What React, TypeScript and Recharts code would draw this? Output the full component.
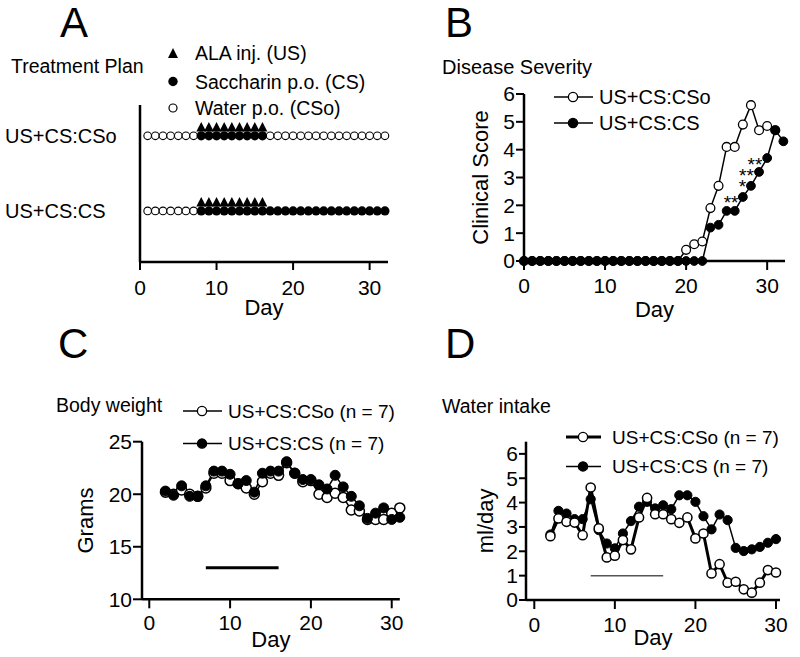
import React from 'react';
import {
  ScatterChart,
  ComposedChart,
  LineChart,
  Line,
  Scatter,
  XAxis,
  YAxis,
  Legend,
  Label,
  ReferenceLine,
} from 'recharts';

const FONT = '"Liberation Sans", Arial, Helvetica, sans-serif';

// ---------- A: treatment plan ----------
const planRows = ['US+CS:CS', 'US+CS:CSo'];
const csoWaterDays = [1, 2, 3, 4, 5, 6, 7, 17, 18, 19, 20, 21, 22, 23, 24, 25, 26, 27, 28, 29, 30, 31, 32];
const csoSaccharinDays = [8, 9, 10, 11, 12, 13, 14, 15, 16];
const csoAlaDays = [8, 9, 10, 11, 12, 13, 14, 15, 16];
const csWaterDays = [1, 2, 3, 4, 5, 6, 7];
const csSaccharinDays = [8, 9, 10, 11, 12, 13, 14, 15, 16, 17, 18, 19, 20, 21, 22, 23, 24, 25, 26, 27, 28, 29, 30, 31, 32];
const csAlaDays = [8, 9, 10, 11, 12, 13, 14, 15, 16];

// ---------- B: disease severity ----------
const severityDays = [0, 1, 2, 3, 4, 5, 6, 7, 8, 9, 10, 11, 12, 13, 14, 15, 16, 17, 18, 19, 20, 21, 22, 23, 24, 25, 26, 27, 28, 29, 30, 31, 32];
const severityCSo = [0, 0, 0, 0, 0, 0, 0, 0, 0, 0, 0, 0, 0, 0, 0, 0, 0, 0, 0, 0, 0.4, 0.6, 0.7, 1.9, 2.7, 4.1, 4.1, 4.9, 5.6, 4.7, 4.85, 4.7];
const severityCS = [0, 0, 0, 0, 0, 0, 0, 0, 0, 0, 0, 0, 0, 0, 0, 0, 0, 0, 0, 0, 0, 0, 0, 1.2, 1.3, 1.8, 1.8, 2.3, 2.7, 3.2, 3.7, 4.7, 4.3];
const severityStars = [
  { day: 25.55, score: 2.26, text: '**' },
  { day: 26.95, score: 2.82, text: '*' },
  { day: 27.9, score: 3.21, text: '***' },
  { day: 28.5, score: 3.63, text: '**' },
];

// ---------- C: body weight ----------
const weightDays = [2, 3, 4, 5, 6, 7, 8, 9, 10, 11, 12, 13, 14, 15, 16, 17, 18, 19, 20, 21, 22, 23, 24, 25, 26, 27, 28, 29, 30, 31];
const weightCSo = [20.2, 20.0, 20.4, 20.0, 19.8, 20.6, 22.0, 22.0, 21.3, 21.0, 20.6, 20.0, 21.2, 22.0, 21.8, 23.0, 22.0, 21.2, 21.3, 20.0, 19.7, 20.1, 19.7, 18.5, 18.4, 17.6, 17.6, 17.6, 18.2, 18.7];
const weightCS = [20.3, 19.9, 20.8, 19.8, 19.8, 20.8, 22.2, 22.2, 21.9, 21.0, 21.3, 20.2, 22.0, 22.2, 22.2, 23.1, 22.0, 21.4, 21.4, 20.9, 20.5, 21.8, 20.7, 19.8, 18.9, 17.7, 18.2, 18.7, 17.6, 17.8];
const weightBar = { start: 7, end: 16, level: 13 };

// ---------- D: water intake ----------
const waterDays = [2, 3, 4, 5, 6, 7, 8, 9, 10, 11, 12, 13, 14, 15, 16, 17, 18, 19, 20, 21, 22, 23, 24, 25, 26, 27, 28, 29, 30];
const waterCSo = [2.62, 3.35, 3.21, 3.18, 2.66, 4.62, 2.94, 1.75, 1.82, 2.46, 2.08, 3.39, 4.19, 3.52, 3.52, 3.32, 3.17, 3.39, 2.53, 2.73, 1.09, 1.47, 0.71, 0.75, 0.44, 0.3, 0.71, 1.23, 1.13];
const waterCS = [2.69, 3.66, 3.55, 3.32, 3.32, 4.14, 2.87, 2.32, 2.12, 2.73, 3.24, 3.83, 4.03, 3.76, 3.89, 3.73, 4.3, 4.3, 4.03, 3.44, 2.9, 3.51, 3.28, 2.14, 2.01, 2.08, 2.18, 2.35, 2.5];
const waterBar = { start: 7, end: 16, level: 1 };

const toPoints = (days: number[], row: number) => days.map((day) => ({ day, row }));
const toSeries = (days: number[], values: number[], key: string) =>
  values.map((v, i) => ({ day: days[i], [key]: v }));

type Box = { left: number; top: number; width: number; height: number };
type Plot = { left: number; top: number; right: number; bottom: number };

// margins so the plot area lands where the figure has it
function marginsFor(box: Box, plot: Plot, yAxisWidth: number, xAxisHeight: number) {
  return {
    left: plot.left - box.left - yAxisWidth,
    top: plot.top - box.top,
    right: box.left + box.width - plot.right,
    bottom: box.top + box.height - plot.bottom - xAxisHeight,
  };
}

const axisLine = { stroke: '#000', strokeWidth: 2.5 };
const tickLine = { stroke: '#000', strokeWidth: 2 };
const tickStyle = { fill: '#000', fontSize: 21 };
const labelStyle = { fill: '#000', fontSize: 22, textAnchor: 'middle' as const };

const OpenDot = (p: any) => <circle cx={p.cx} cy={p.cy} r={3.8} fill="#fff" stroke="#000" strokeWidth={1.1} />;
const FilledDot = (p: any) => <circle cx={p.cx} cy={p.cy} r={4.6} fill="#000" />;
const Triangle = (p: any) => (
  <path d={`M${p.cx - 4.9},${p.cy - 4.3} L${p.cx + 4.9},${p.cy - 4.3} L${p.cx},${p.cy - 13.8} Z`} fill="#000" />
);
const Stars = (p: any) => (
  <text x={p.cx} y={p.cy + 10.8} textAnchor="middle" fontSize={19} fill="#000">
    {p.payload.text}
  </text>
);
const RowTick = (p: any) => (
  <text x={5} y={p.y} dy="0.35em" textAnchor="start" fontSize={20} fill="#000">
    {planRows[p.payload.value]}
  </text>
);

const PlanLegend = () => {
  const items = [
    { label: 'ALA inj. (US)', y: 13, kind: 'tri' },
    { label: 'Saccharin p.o. (CS)', y: 41.5, kind: 'fill' },
    { label: 'Water p.o. (CSo)', y: 68, kind: 'open' },
  ];
  return (
    <svg width={240} height={82} style={{ display: 'block', overflow: 'visible' }}>
      {items.map((it) => (
        <g key={it.label}>
          {it.kind === 'tri' && <path d={`M8,${it.y + 5} L18,${it.y + 5} L13,${it.y - 5} Z`} fill="#000" />}
          {it.kind === 'fill' && <circle cx={13} cy={it.y} r={4.7} fill="#000" />}
          {it.kind === 'open' && <circle cx={13} cy={it.y} r={4} fill="#fff" stroke="#000" strokeWidth={1.2} />}
          <text x={35} y={it.y + 7} fontSize={19.5} fill="#000">
            {it.label}
          </text>
        </g>
      ))}
    </svg>
  );
};

type LegendItem = { label: string; filled: boolean; lineWidth: number };
const SeriesLegend = ({ items, gap, lineFrom, lineTo, markerX, textX, fontSize }: {
  items: LegendItem[]; gap: number; lineFrom: number; lineTo: number; markerX: number; textX: number; fontSize: number;
}) => (
  <svg width={260} height={gap * items.length + 10} style={{ display: 'block', overflow: 'visible' }}>
    {items.map((it, i) => {
      const y = 12 + i * gap;
      return (
        <g key={it.label}>
          <line x1={lineFrom} x2={lineTo} y1={y} y2={y} stroke="#000" strokeWidth={it.lineWidth} />
          <circle cx={markerX} cy={y} r={4.6} fill={it.filled ? '#000' : '#fff'} stroke="#000" strokeWidth={1.3} />
          <text x={textX} y={y + fontSize * 0.36} fontSize={fontSize} fill="#000">
            {it.label}
          </text>
        </g>
      );
    })}
  </svg>
);

function PanelA() {
  const box = { left: 0, top: 0, width: 400, height: 330 };
  const plot = { left: 140, top: 105, right: 388, bottom: 262 };
  const rowCSo = planRows.indexOf('US+CS:CSo');
  const rowCS = planRows.indexOf('US+CS:CS');
  return (
    <div style={{ position: 'absolute', left: box.left, top: box.top }}>
      <ScatterChart width={box.width} height={box.height} margin={marginsFor(box, plot, 140, 53)}>
        <XAxis type="number" dataKey="day" domain={[0, 32.4]} ticks={[0, 10, 20, 30]} interval={0} height={53}
          axisLine={axisLine} tickLine={tickLine} tick={tickStyle} tickSize={8} tickMargin={10}>
          <Label value="Day" position="insideBottom" offset={0} style={labelStyle} />
        </XAxis>
        <YAxis type="number" dataKey="row" domain={[-0.68, 1.41]} ticks={[0, 1]} interval={0} width={140}
          axisLine={axisLine} tickLine={false} tick={<RowTick />} />
        <Legend layout="vertical" align="center" verticalAlign="middle" width={240} height={82}
          wrapperStyle={{ left: 160, top: 40 }} content={() => <PlanLegend />} />
        <Scatter data={toPoints(csoWaterDays, rowCSo)} shape={OpenDot} isAnimationActive={false} />
        <Scatter data={toPoints(csWaterDays, rowCS)} shape={OpenDot} isAnimationActive={false} />
        <Scatter data={toPoints(csoSaccharinDays, rowCSo)} shape={FilledDot} isAnimationActive={false} />
        <Scatter data={toPoints(csSaccharinDays, rowCS)} shape={FilledDot} isAnimationActive={false} />
        <Scatter data={toPoints(csoAlaDays, rowCSo)} shape={Triangle} isAnimationActive={false} />
        <Scatter data={toPoints(csAlaDays, rowCS)} shape={Triangle} isAnimationActive={false} />
      </ScatterChart>
    </div>
  );
}

function PanelB() {
  const box = { left: 400, top: 40, width: 400, height: 290 };
  const plot = { left: 524, top: 94, right: 785, bottom: 261 };
  const legendItems = [
    { label: 'US+CS:CSo', filled: false, lineWidth: 1.5 },
    { label: 'US+CS:CS', filled: true, lineWidth: 1.5 },
  ];
  return (
    <div style={{ position: 'absolute', left: box.left, top: box.top }}>
      <ComposedChart width={box.width} height={box.height} margin={marginsFor(box, plot, 60, 56)}>
        <XAxis type="number" dataKey="day" domain={[0, 32.2]} ticks={[0, 10, 20, 30]} interval={0} height={56}
          axisLine={axisLine} tickLine={tickLine} tick={tickStyle} tickSize={9} tickMargin={8}>
          <Label value="Day" position="insideBottom" offset={0} style={labelStyle} />
        </XAxis>
        <YAxis type="number" domain={[0, 6]} ticks={[0, 1, 2, 3, 4, 5, 6]} interval={0} width={60}
          axisLine={axisLine} tickLine={tickLine} tick={tickStyle} tickSize={8} tickMargin={1}>
          <Label value="Clinical Score" angle={-90} position="insideLeft" offset={16} style={labelStyle} />
        </YAxis>
        <Legend layout="vertical" align="center" verticalAlign="middle" width={260} height={62}
          wrapperStyle={{ left: 140, top: 45 }}
          content={() => <SeriesLegend items={legendItems} gap={26} lineFrom={14} lineTo={53} markerX={33} textX={59} fontSize={20} />} />
        <Line data={toSeries(severityDays, severityCSo, 'score')} dataKey="score" type="linear" stroke="#000" strokeWidth={1.5}
          dot={{ r: 4.4, fill: '#fff', stroke: '#000', strokeWidth: 1.3 }} activeDot={false} isAnimationActive={false} />
        <Line data={toSeries(severityDays, severityCS, 'score')} dataKey="score" type="linear" stroke="#000" strokeWidth={1.5}
          dot={{ r: 4.4, fill: '#000', stroke: '#000', strokeWidth: 1 }} activeDot={false} isAnimationActive={false} />
        <Scatter data={severityStars} dataKey="score" shape={Stars} isAnimationActive={false} />
      </ComposedChart>
    </div>
  );
}

function PanelC() {
  const box = { left: 0, top: 330, width: 410, height: 327 };
  const plot = { left: 142, top: 441.7, right: 399.8, bottom: 599.3 };
  const legendItems = [
    { label: 'US+CS:CSo (n = 7)', filled: false, lineWidth: 1.5 },
    { label: 'US+CS:CS (n = 7)', filled: true, lineWidth: 1.5 },
  ];
  return (
    <div style={{ position: 'absolute', left: box.left, top: box.top }}>
      <LineChart width={box.width} height={box.height} margin={marginsFor(box, plot, 60, 47.4)}>
        <XAxis type="number" dataKey="day" domain={[-0.9, 31]} ticks={[0, 10, 20, 30]} interval={0} height={47.4}
          axisLine={axisLine} tickLine={tickLine} tick={tickStyle} tickSize={9} tickMargin={7}>
          <Label value="Day" position="insideBottom" offset={0} style={labelStyle} />
        </XAxis>
        <YAxis type="number" domain={[10, 25]} ticks={[10, 15, 20, 25]} interval={0} width={60}
          axisLine={axisLine} tickLine={tickLine} tick={tickStyle} tickSize={9} tickMargin={1}>
          <Label value="Grams" angle={-90} position="insideLeft" offset={3} style={labelStyle} />
        </YAxis>
        <Legend layout="vertical" align="center" verticalAlign="middle" width={260} height={76}
          wrapperStyle={{ left: 170, top: 68.7 }}
          content={() => <SeriesLegend items={legendItems} gap={32.6} lineFrom={13} lineTo={52} markerX={32} textX={58} fontSize={19} />} />
        <ReferenceLine segment={[{ x: weightBar.start, y: weightBar.level }, { x: weightBar.end, y: weightBar.level }]}
          stroke="#000" strokeWidth={3} />
        <Line data={toSeries(weightDays, weightCSo, 'grams')} dataKey="grams" type="linear" stroke="#000" strokeWidth={1.5}
          dot={{ r: 5, fill: '#fff', stroke: '#000', strokeWidth: 1.5 }} activeDot={false} isAnimationActive={false} />
        <Line data={toSeries(weightDays, weightCS, 'grams')} dataKey="grams" type="linear" stroke="#000" strokeWidth={1.5}
          dot={{ r: 5, fill: '#000', stroke: '#000', strokeWidth: 1 }} activeDot={false} isAnimationActive={false} />
      </LineChart>
    </div>
  );
}

function PanelD() {
  const box = { left: 400, top: 330, width: 400, height: 327 };
  const plot = { left: 526, top: 441.7, right: 780, bottom: 600 };
  const legendItems = [
    { label: 'US+CS:CSo (n = 7)', filled: false, lineWidth: 3 },
    { label: 'US+CS:CS (n = 7)', filled: true, lineWidth: 1.5 },
  ];
  return (
    <div style={{ position: 'absolute', left: box.left, top: box.top }}>
      <LineChart width={box.width} height={box.height} margin={marginsFor(box, plot, 60, 45)}>
        <XAxis type="number" dataKey="day" domain={[-1.03, 30.5]} ticks={[0, 10, 20, 30]} interval={0} height={45}
          axisLine={axisLine} tickLine={tickLine} tick={tickStyle} tickSize={9} tickMargin={8}>
          <Label value="Day" position="insideBottom" offset={0} style={labelStyle} />
        </XAxis>
        <YAxis type="number" domain={[0, 6.5]} ticks={[0, 1, 2, 3, 4, 5, 6]} interval={0} width={60}
          axisLine={axisLine} tickLine={tickLine} tick={tickStyle} tickSize={7} tickMargin={1}>
          <Label value="ml/day" angle={-90} position="insideLeft" offset={19} style={labelStyle} />
        </YAxis>
        <Legend layout="vertical" align="center" verticalAlign="middle" width={260} height={70}
          wrapperStyle={{ left: 150, top: 95.3 }}
          content={() => <SeriesLegend items={legendItems} gap={29.4} lineFrom={16} lineTo={51} markerX={33} textX={62} fontSize={19} />} />
        <ReferenceLine segment={[{ x: waterBar.start, y: waterBar.level }, { x: waterBar.end, y: waterBar.level }]}
          stroke="#555" strokeWidth={1.5} />
        <Line data={toSeries(waterDays, waterCS, 'ml')} dataKey="ml" type="linear" stroke="#000" strokeWidth={1.5}
          dot={{ r: 4.6, fill: '#000', stroke: '#000', strokeWidth: 1 }} activeDot={false} isAnimationActive={false} />
        <Line data={toSeries(waterDays, waterCSo, 'ml')} dataKey="ml" type="linear" stroke="#000" strokeWidth={3}
          dot={{ r: 4.6, fill: '#fff', stroke: '#000', strokeWidth: 1.5 }} activeDot={false} isAnimationActive={false} />
      </LineChart>
    </div>
  );
}

export default function App() {
  return (
    <div style={{ position: 'absolute', left: 0, top: 0, width: 800, height: 657, background: '#fff', overflow: 'hidden', fontFamily: FONT }}>
      <PanelA />
      <PanelB />
      <PanelC />
      <PanelD />
      <svg width={800} height={657} style={{ position: 'absolute', left: 0, top: 0, pointerEvents: 'none' }}>
        <g fill="#000" fontFamily={FONT}>
          <text x={60} y={37} fontSize={42}>A</text>
          <text x={445} y={37} fontSize={42}>B</text>
          <text x={58} y={358} fontSize={42}>C</text>
          <text x={445} y={358} fontSize={42}>D</text>
          <text x={11} y={73} fontSize={19.5}>Treatment Plan</text>
          <text x={442} y={74} fontSize={20}>Disease Severity</text>
          <text x={56} y={412} fontSize={19.5}>Body weight</text>
          <text x={442} y={413} fontSize={19.5}>Water intake</text>
        </g>
      </svg>
    </div>
  );
}
